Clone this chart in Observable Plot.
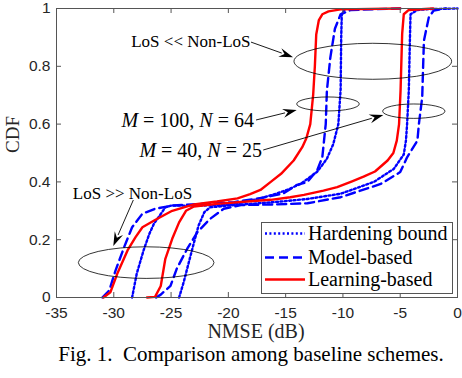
<!DOCTYPE html>
<html><head><meta charset="utf-8">
<script src="https://cdn.jsdelivr.net/npm/d3@7"></script>
<script src="https://cdn.jsdelivr.net/npm/@observablehq/plot@0.6"></script>
<style>
body{margin:0;background:#fff;}
#wrap{position:relative;width:462px;height:378px;overflow:hidden;background:#fff;}
#legend{position:absolute;left:261px;top:222px;}
</style></head><body><div id="wrap"></div>
<script>
// ---- tick labels ----
const xTicks = [-35,-30,-25,-20,-15,-10,-5,0];
const yTicks = [0,0.2,0.4,0.6,0.8,1];

// ---- legend ----
const schemes = ["Hardening bound","Model-based","Learning-based"];

// ---- series: [NMSE (dB), CDF] ----
// M = 100, N = 64
const hardeningM100 = [[-28.4,0],[-28.0,0.082],[-27.4,0.163],[-26.9,0.22],[-26.5,0.255],[-26.2,0.272],[-25.5,0.312],[-25.0,0.318],[-22.4,0.318],[-19.8,0.322],[-17.5,0.34],[-16.0,0.357],[-14.9,0.372],[-13.7,0.393],[-12.25,0.435],[-11.4,0.48],[-10.85,0.53],[-10.4,0.60],[-10.2,0.72],[-10.15,0.9],[-10.1,0.98],[-9.8,1.0]];
const modelM100 = [[-31.0,0],[-30.4,0.024],[-29.85,0.093],[-29.1,0.174],[-28.4,0.243],[-27.5,0.29],[-26.4,0.307],[-24.9,0.318],[-22.4,0.324],[-19.5,0.33],[-17.0,0.345],[-15.2,0.36],[-14.0,0.39],[-13.1,0.40],[-12.25,0.44],[-11.8,0.485],[-11.5,0.60],[-11.4,0.716],[-11.1,0.83],[-10.7,0.93],[-10.2,0.98],[-9.3,0.995],[-5.0,1.0]];
const learningM100 = [[-30.9,0],[-30.3,0.018],[-29.7,0.082],[-28.8,0.163],[-28.1,0.209],[-27.5,0.243],[-26.4,0.268],[-24.9,0.300],[-23.0,0.322],[-21.0,0.332],[-19.2,0.343],[-18.1,0.358],[-17.2,0.372],[-16.3,0.40],[-15.4,0.428],[-14.3,0.474],[-13.55,0.52],[-13.2,0.55],[-12.85,0.60],[-12.6,0.70],[-12.45,0.80],[-12.33,0.91],[-12.1,0.96],[-11.8,0.98],[-11.26,0.99],[-10.2,0.997],[-5.0,1.0]];
// M = 40, N = 25
const hardeningM40 = [[-24.3,0],[-23.9,0.053],[-23.45,0.122],[-23.0,0.19],[-22.6,0.249],[-22.1,0.295],[-21.6,0.312],[-19.5,0.32],[-16.0,0.33],[-13.1,0.341],[-10.2,0.359],[-7.3,0.40],[-5.56,0.445],[-4.69,0.495],[-4.5,0.543],[-4.4,0.60],[-4.25,0.716],[-4.15,0.9],[-4.1,0.98],[-3.5,0.995],[-2.5,0.998],[0,1.0]];
const modelM40 = [[-26.3,0],[-25.9,0.01],[-25.05,0.04],[-24.5,0.10],[-23.6,0.168],[-22.7,0.226],[-21.6,0.272],[-20.4,0.307],[-18.9,0.32],[-16.0,0.322],[-13.1,0.326],[-10.2,0.347],[-6.7,0.393],[-5.0,0.434],[-4.4,0.485],[-3.5,0.543],[-3.37,0.60],[-3.08,0.693],[-3.0,0.80],[-2.93,0.889],[-2.5,0.97],[-2.07,0.993],[-1.0,1.0]];
const learningM40 = [[-27.1,0],[-26.4,0.002],[-25.9,0.04],[-25.5,0.134],[-24.9,0.203],[-24.3,0.26],[-23.7,0.30],[-23.0,0.315],[-21.0,0.324],[-18.1,0.333],[-16.3,0.338],[-14.6,0.347],[-13.4,0.355],[-11.7,0.37],[-10.5,0.382],[-9.2,0.402],[-8.2,0.418],[-7.2,0.436],[-6.1,0.474],[-5.6,0.50],[-5.3,0.543],[-5.1,0.60],[-4.97,0.716],[-4.83,0.912],[-4.69,0.98],[-4.25,0.995],[-2.1,1.0]];

// ---- annotations (data units) ----
const ellipses = [
  {x:-7.35, y:0.8156, rx:6.88, ry:0.0623},
  {x:-11.26, y:0.668, rx:2.73, ry:0.0242},
  {x:-3.77, y:0.643, rx:2.72, ry:0.0249},
  {x:-27.13, y:0.119, rx:5.92, ry:0.0547}
];
const arrows = [
  {x1:-17.98, y1:0.882, x2:-14.31, y2:0.830},
  {x1:-17.54, y1:0.6125, x2:-13.99, y2:0.647},
  {x1:-16.91, y1:0.5087, x2:-6.43, y2:0.63},
  {x1:-28.25, y1:0.3356, x2:-30.0, y2:0.1765}
];
const labelLosLow = [{x:-17.98, y:0.886, text:"LoS << Non-LoS"}];
const labelLosHigh = [{x:-28.37, y:0.3606, text:"LoS >> Non-LoS"}];
const mathLabels = [
  {x:-17.72, y:0.6097, M:"100", N:"64"},
  {x:-17.02, y:0.506, M:"40", N:"25"}
];
const caption = "Fig. 1.\u00a0\u00a0Comparison among baseline schemes.";

// ---- build table ----
const rows = [];
function add(arr, scheme, config){ for (const [v,c] of arr) rows.push({nmse:v, cdf:c, scheme, config}); }
add(hardeningM100, schemes[0], "M100"); add(hardeningM40, schemes[0], "M40");
add(modelM100, schemes[1], "M100"); add(modelM40, schemes[1], "M40");
add(learningM100, schemes[2], "M100"); add(learningM40, schemes[2], "M40");

const styles = {
  "Hardening bound": {stroke:"#0000ff", dash:"2,2.4"},
  "Model-based": {stroke:"#0000ff", dash:"9,5"},
  "Learning-based": {stroke:"#ff0000", dash:null}
};

const serif = "'Liberation Serif', 'Times New Roman', serif";
const sans = "'Liberation Sans', Arial, sans-serif";

function ellipseMark(index, {x, y}) {
  const g = d3.create("svg:g");
  for (const e of ellipses) {
    const cx = x(e.x), cy = y(e.y);
    g.append("ellipse").attr("cx", cx).attr("cy", cy)
      .attr("rx", Math.abs(x(e.x + e.rx) - cx)).attr("ry", Math.abs(y(e.y + e.ry) - cy))
      .attr("fill", "none").attr("stroke", "#000").attr("stroke-width", 0.8);
  }
  return g.node();
}
function arrowMark(index, {x, y}) {
  const g = d3.create("svg:g");
  const L = 14, W = 4.5;
  for (const a of arrows) {
    const X1 = x(a.x1), Y1 = y(a.y1), X2 = x(a.x2), Y2 = y(a.y2);
    const ang = Math.atan2(Y2 - Y1, X2 - X1);
    const bx = X2 - L*Math.cos(ang), by = Y2 - L*Math.sin(ang);
    g.append("line").attr("x1", X1).attr("y1", Y1).attr("x2", bx + 2*Math.cos(ang)).attr("y2", by + 2*Math.sin(ang))
      .attr("stroke", "#000").attr("stroke-width", 0.9);
    const px = -Math.sin(ang), py = Math.cos(ang);
    g.append("path").attr("d", `M${X2},${Y2}L${bx + W*px},${by + W*py}L${bx + 0.35*L*Math.cos(ang)},${by + 0.35*L*Math.sin(ang)}L${bx - W*px},${by - W*py}Z`)
      .attr("fill", "#000");
  }
  return g.node();
}
function mathMark(index, {x, y}) {
  const g = d3.create("svg:g");
  for (const m of mathLabels) {
    const t = g.append("text").attr("x", x(m.x)).attr("y", y(m.y)).attr("dy", "0.33em")
      .attr("text-anchor", "end").attr("font-family", serif).attr("font-size", 20).attr("fill", "#000")
      .attr("xml:space", "preserve").style("white-space", "pre");
    t.append("tspan").attr("font-style", "italic").text("M");
    t.append("tspan").text(" = " + m.M + ", ");
    t.append("tspan").attr("font-style", "italic").text("N");
    t.append("tspan").text(" = " + m.N);
  }
  return g.node();
}

const lineMarks = schemes.map(s => Plot.line(rows.filter(r => r.scheme === s), {
  x: "nmse", y: "cdf", z: "config", stroke: styles[s].stroke, strokeWidth: 2.4,
  strokeDasharray: styles[s].dash, strokeLinejoin: "round", curve: "linear"
}));

const plot = Plot.plot({
  width: 462, height: 378,
  marginLeft: 56, marginRight: 5, marginTop: 8, marginBottom: 81,
  x: {domain: [-35, 0], axis: null},
  y: {domain: [0, 1], axis: null},
  style: {background: "#fff", overflow: "visible"},
  marks: [
    ...lineMarks,
    ellipseMark,
    arrowMark,
    Plot.text(labelLosLow, {x: "x", y: "y", text: "text", textAnchor: "end", dx: -1, fontFamily: serif, fontSize: 17, fill: "#000"}),
    Plot.text(labelLosHigh, {x: "x", y: "y", text: "text", textAnchor: "middle", fontFamily: serif, fontSize: 17, fill: "#000"}),
    mathMark,
    Plot.frame({stroke: "#555", strokeWidth: 1}),
    Plot.tickX(xTicks, {x: d => d, stroke: "#555", insetTop: 284}),
    Plot.tickX(xTicks, {x: d => d, stroke: "#555", insetBottom: 284}),
    Plot.tickY(yTicks, {y: d => d, stroke: "#555", insetRight: 396}),
    Plot.tickY(yTicks, {y: d => d, stroke: "#555", insetLeft: 396}),
    Plot.text(xTicks, {x: d => d, frameAnchor: "bottom", dy: 20, text: d => String(d), fontFamily: sans, fontSize: 15.5, fill: "#262626"}),
    Plot.text(yTicks, {y: d => d, frameAnchor: "left", dx: -6, textAnchor: "end", text: d => String(d), fontFamily: sans, fontSize: 15.5, fill: "#262626"}),
    Plot.text(["NMSE (dB)"], {frameAnchor: "bottom", dy: 40, dx: -1, fontFamily: serif, fontSize: 20, fill: "#262626", style: {letterSpacing: "1.4px"}}),
    Plot.text(["CDF"], {frameAnchor: "left", dx: -44, rotate: -90, fontFamily: serif, fontSize: 19, fill: "#262626"}),
    Plot.text([caption], {frameAnchor: "bottom", dy: 63, dx: -6, fontFamily: serif, fontSize: 21, fill: "#000", style: {wordSpacing: "2.5px"}})
  ]
});
document.getElementById("wrap").appendChild(plot);

// ---- legend overlay ----
const leg = d3.select("#wrap").append("svg").attr("id", "legend").attr("width", 193).attr("height", 73);
leg.append("rect").attr("x", 0.5).attr("y", 0.5).attr("width", 191).attr("height", 71)
  .attr("fill", "#fff").attr("stroke", "#555").attr("stroke-width", 1);
schemes.forEach((s, i) => {
  const yy = [11.5, 35.5, 57.5][i];
  leg.append("line").attr("x1", 4).attr("x2", 44).attr("y1", yy).attr("y2", yy)
    .attr("stroke", styles[s].stroke).attr("stroke-width", 2.6)
    .attr("stroke-dasharray", styles[s].dash);
  leg.append("text").attr("x", 47).attr("y", yy).attr("dy", "0.33em")
    .attr("font-family", serif).attr("font-size", 20).attr("fill", "#000").text(s);
});
</script></body></html>
